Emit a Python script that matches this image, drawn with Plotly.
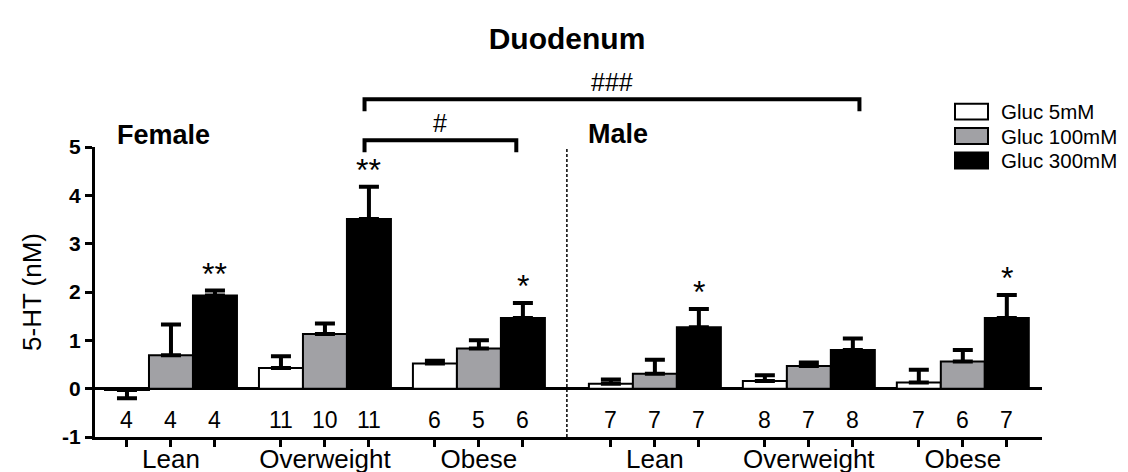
import plotly.graph_objects as go

# 5-HT release from duodenum (nM), mean and SEM
groups = ["Lean", "Overweight", "Obese", "Lean", "Overweight", "Obese"]

gluc5 = [-0.03, 0.43, 0.52, 0.10, 0.16, 0.13]
gluc5_sem = [0.17, 0.24, 0.06, 0.09, 0.12, 0.26]
gluc100 = [0.69, 1.13, 0.83, 0.31, 0.47, 0.56]
gluc100_sem = [0.64, 0.22, 0.17, 0.29, 0.07, 0.24]
gluc300 = [1.93, 3.51, 1.46, 1.27, 0.80, 1.46]
gluc300_sem = [0.10, 0.67, 0.31, 0.38, 0.24, 0.48]

# number of subjects per bar
n5 = [4, 11, 6, 7, 8, 7]
n100 = [4, 10, 5, 7, 7, 6]
n300 = [4, 11, 6, 7, 8, 7]

# significance vs Gluc 5mM (300mM bars only)
stars300 = ["**", "**", "*", "*", "", "*"]

# slot of first bar in each group; female groups then male groups
group_start = [0, 3.5, 7, 11, 14.5, 18]

FONT = "Arial, Liberation Sans, Helvetica, sans-serif"
W, H = 1128, 472
L, R, T, B = 87, 94, 138.5, 42.5
Y0, Y1 = -1, 5

series = [
    ("Gluc 5mM", gluc5, gluc5_sem, n5, "white"),
    ("Gluc 100mM", gluc100, gluc100_sem, n100, "#a1a1a5"),
    ("Gluc 300mM", gluc300, gluc300_sem, n300, "black"),
]


def yp(v):
    # data y -> paper y, for items sitting above the plot area
    return (v - Y0) / (Y1 - Y0)


def xpx(px):
    return (px - L) / (W - L - R)


def ypx(py):
    return (H - B - py) / (H - T - B)


fig = go.Figure()
annotations = []
shapes = []
tickvals, ticktext = [], []

for k, (name, vals, sem, ns, color) in enumerate(series):
    xs = [g + k for g in group_start]
    fig.add_trace(go.Bar(
        x=xs, y=vals, name=name, width=1,
        marker=dict(color=color, line=dict(color="black", width=2)),
        error_y=dict(
            type="data", symmetric=False,
            array=[s if v >= 0 else 0 for v, s in zip(vals, sem)],
            arrayminus=[s if v < 0 else 0 for v, s in zip(vals, sem)],
            color="black", thickness=4, width=10,
        ),
        showlegend=False,
    ))
    for x, n in zip(xs, ns):
        annotations.append(dict(x=x, y=-0.65, text=str(n), showarrow=False,
                                yanchor="middle", font=dict(size=23)))
    tickvals += xs
    ticktext += groups if k == 1 else [""] * len(xs)

# asterisks over the 300mM bars
for g, v, s, st in zip(group_start, gluc300, gluc300_sem, stars300):
    if st:
        annotations.append(dict(x=g + 2, y=v + s, text=st, showarrow=False,
                                yanchor="bottom", yshift=-3, font=dict(size=32)))

# sex labels
annotations.append(dict(x=0.82, y=yp(5.24), yref="paper", text="<b>Female</b>",
                        showarrow=False, yanchor="middle", font=dict(size=27)))
annotations.append(dict(x=11.16, y=yp(5.26), yref="paper", text="<b>Male</b>",
                        showarrow=False, yanchor="middle", font=dict(size=27)))

# divider between female and male
shapes.append(dict(type="line", x0=10, x1=10, y0=Y0, y1=Y1, xref="x", yref="y",
                   line=dict(color="black", width=1.5, dash="3px,2px")))

# comparison brackets
for x0, x1, top, leg, label in [(5.40, 8.85, 5.14, 4.89, "#"),
                                (5.40, 16.65, 5.99, 5.74, "###")]:
    shapes.append(dict(
        type="path", xref="x", yref="paper",
        path=f"M {x0},{yp(leg)} L {x0},{yp(top)} L {x1},{yp(top)} L {x1},{yp(leg)}",
        line=dict(color="black", width=4),
    ))
    annotations.append(dict(x=(x0 + x1) / 2, y=yp(top + 0.36), yref="paper",
                            text=label, showarrow=False, yanchor="middle",
                            font=dict(size=25)))

# legend drawn by hand so the swatches match the wide boxes of the original
for (name, _, _, _, color), cy in zip(series, [103, 127.5, 152]):
    shapes.append(dict(type="rect", xref="paper", yref="paper",
                       x0=xpx(947), x1=xpx(980), y0=ypx(cy + 8), y1=ypx(cy - 8),
                       fillcolor=color, line=dict(color="black", width=2)))
    annotations.append(dict(x=xpx(992), y=ypx(cy), xref="paper", yref="paper",
                            text=name, showarrow=False, xanchor="left",
                            yanchor="middle", height=23, borderpad=0,
                            font=dict(size=20.5)))

fig.update_layout(
    template="none",
    width=W, height=H,
    margin=dict(l=L, r=R, t=T, b=B, pad=0),
    paper_bgcolor="white", plot_bgcolor="white",
    font=dict(family=FONT, color="black"),
    title=dict(text="<b>Duodenum</b>", x=559 / W, xanchor="center",
               y=1 - 30 / H, yanchor="middle", font=dict(size=30)),
    barmode="overlay",
    showlegend=False,
    annotations=annotations,
    shapes=shapes,
    xaxis=dict(
        range=[-0.727, 20.8], tickvals=tickvals, ticktext=ticktext,
        showline=True, linecolor="black", linewidth=3,
        ticks="outside", ticklen=7, tickwidth=3, tickcolor="black",
        tickfont=dict(size=26), ticklabelstandoff=-10,
        showgrid=False, zeroline=False, automargin=False,
    ),
    yaxis=dict(
        range=[Y0, Y1], tickvals=[-1, 0, 1, 2, 3, 4, 5],
        ticktext=["-1", "0", "1", "2", "3", "4", "5"],
        showline=True, linecolor="black", linewidth=3,
        ticks="outside", ticklen=7, tickwidth=3, tickcolor="black",
        tickfont=dict(size=21, weight="bold"),
        title=dict(text="5-HT (nM)", font=dict(size=26), standoff=14),
        showgrid=False, zeroline=True, zerolinecolor="black", zerolinewidth=2.5,
        automargin=False,
    ),
)

fig.write_html("out.html")
